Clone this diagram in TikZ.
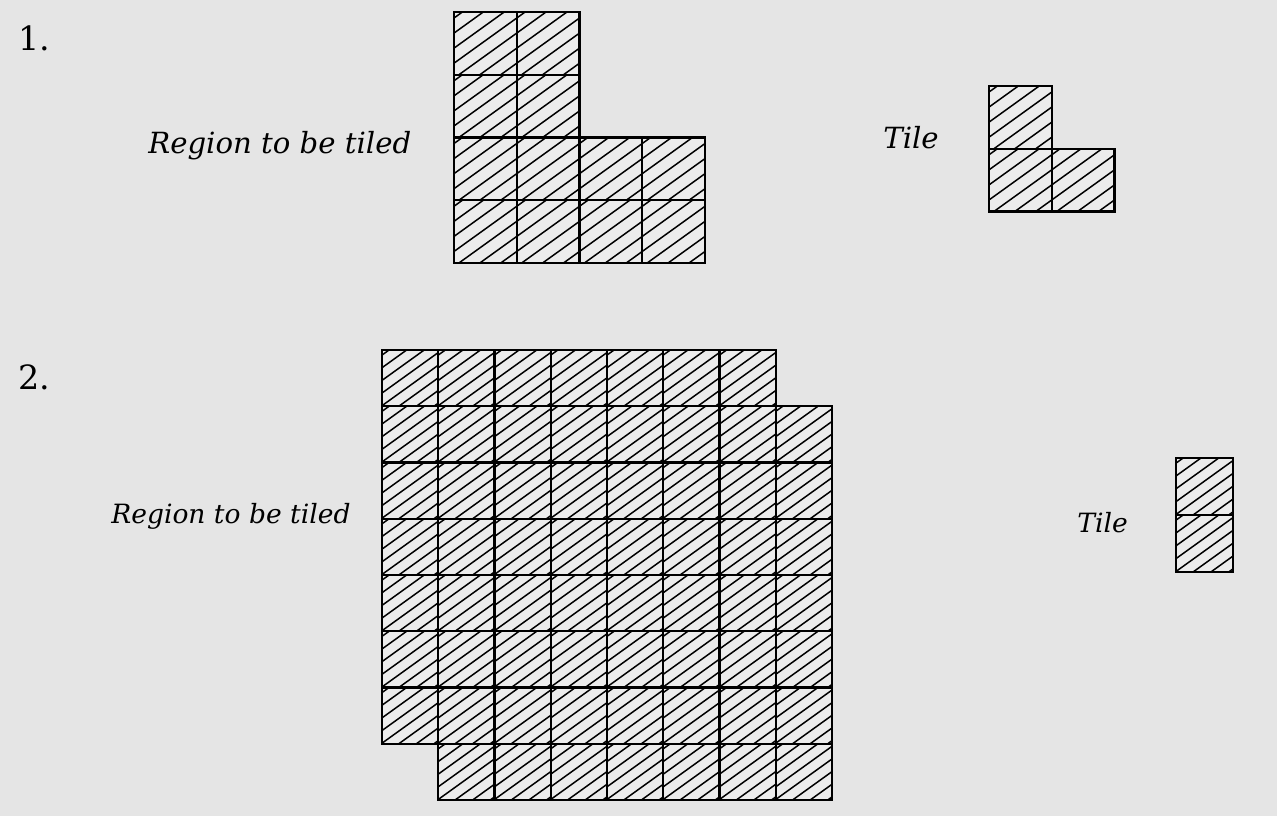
\documentclass[tikz,border=0pt]{standalone}
\usepackage{fontspec}
\setmainfont{DejaVu Serif}
\usepackage{xcolor}
\definecolor{paper}{RGB}{229,229,229}
\definecolor{cellfill}{RGB}{236,236,236}
\newcommand{\hgap}{0.24}
% one hatched square: top left corner #1,#2 and side #3
\newcommand{\hcell}[3]{%
    \begin{scope}
        \clip (#1,#2) rectangle ++(#3,#3);
        \fill[cellfill] (#1,#2) rectangle ++(#3,#3);
        \foreach \k in {0,...,9}
            \draw[hatch] (#1,#2+\hgap*#3*\k+0.4*\hgap*#3) -- ++(#3,-0.72*#3);
    \end{scope}
    \draw[cellbox] (#1,#2) rectangle ++(#3,#3);
}
\tikzset{
    cellbox/.style={black,line width=1.4pt},
    hatch/.style={black,line width=0.85pt},
    label/.style={anchor=base west,inner sep=0pt,font=\itshape\fontsize{16.6pt}{20pt}\selectfont},
    num/.style={anchor=base west,inner sep=0pt,font=\fontsize{19pt}{24pt}\selectfont}
}

\begin{document}
\begin{tikzpicture}[x=0.02cm,y=-0.02cm]
    \fill[paper] (0,0) rectangle (1277,816);
    \useasboundingbox (0,0) rectangle (1277,816);

    % 1.
    \node[num] (one) at (18,50) {1.};
    \node[label] (region1) at (148,153) {Region to be tiled};
    \node[label] (tile1) at (883,148) {Tile};
    \foreach \c in {0,1}{
        \foreach \r in {0,1}{
            \hcell{454+\c*62.75}{12+\r*62.75}{62.75}
        }
    }
    \foreach \c in {0,...,3}{
        \foreach \r in {2,3}{
            \hcell{454+\c*62.75}{12+\r*62.75}{62.75}
        }
    }
    \hcell{989}{86}{62.75}
    \hcell{989}{148.75}{62.75}
    \hcell{1051.75}{148.75}{62.75}

    % 2.
    \renewcommand{\hgap}{0.225}
    \node[num] (two) at (18,389) {2.};
    \node[label,font=\itshape\fontsize{15.1pt}{18pt}\selectfont] (region2) at (111,523) {Region to be tiled};
    \node[label,font=\itshape\fontsize{15.1pt}{18pt}\selectfont] (tile2) at (1077,532) {Tile};
    \foreach \c in {0,...,6}{
        \hcell{382+\c*56.25}{350}{56.25}
    }
    \foreach \c in {0,...,7}{
        \foreach \r in {1,...,6}{
            \hcell{382+\c*56.25}{350+\r*56.25}{56.25}
        }
    }
    \foreach \c in {1,...,7}{
        \hcell{382+\c*56.25}{743.75}{56.25}
    }
    \hcell{1176}{458}{57}
    \hcell{1176}{515}{57}
\end{tikzpicture}
\end{document}
